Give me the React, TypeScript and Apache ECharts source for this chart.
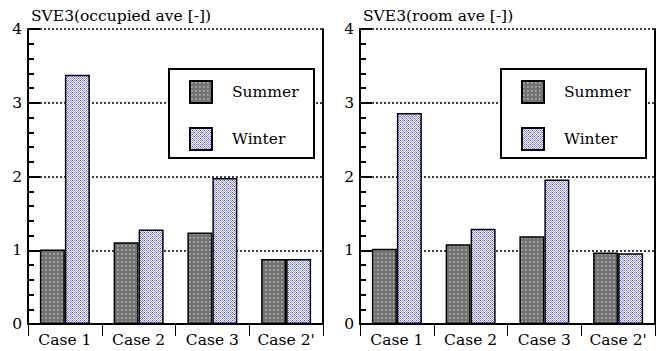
import React, { useEffect, useRef } from "react";
import * as echarts from "echarts";

const categories = ["Case 1", "Case 2", "Case 3", "Case 2'"];
const occupiedSummer = [1.01, 1.11, 1.24, 0.88];
const occupiedWinter = [3.38, 1.28, 1.98, 0.88];
const roomSummer = [1.02, 1.08, 1.19, 0.97];
const roomWinter = [2.86, 1.29, 1.96, 0.96];
const titles = ["SVE3(occupied ave [-])", "SVE3(room ave [-])"];
const seriesNames = ["Summer", "Winter"];
const yMin = 0;
const yMax = 4;
const yInterval = 1;

const FONT = "DejaVu Serif";
const FS = 15.5;

function makePattern(kind: string) {
  const c = document.createElement("canvas");
  c.width = 4;
  c.height = 4;
  const ctx = c.getContext("2d")!;
  for (let x = 0; x < 4; x++) {
    for (let y = 0; y < 4; y++) {
      let col: string;
      if (kind === "summer") {
        col = "#727272";
        if ((x === 1 || x === 2) && (y === 1 || y === 2)) col = "#a4a4a4";
        if (x === 2 && y === 2) col = "#8a8a8a";
      } else {
        col = (x + y) % 2 === 0 ? "#9a9aff" : "#ffffff";
        if ((x === 0 && y === 0) || (x === 2 && y === 2)) col = "#5656ea";
        if (x === 3 && y === 0) col = "#d8d8ff";
      }
      ctx.fillStyle = col;
      ctx.fillRect(x, y, 1, 1);
    }
  }
  return c;
}

export default function App() {
  const ref = useRef<HTMLDivElement>(null);
  useEffect(() => {
    if (!ref.current) return;
    const chart = echarts.init(ref.current, null, { renderer: "svg" });
    const summerPat = { image: makePattern("summer"), repeat: "repeat" };
    const winterPat = { image: makePattern("winter"), repeat: "repeat" };
    const gridLefts = [28, 360];
    const TOP = 29;
    const H = 295;
    const data = [
      [occupiedSummer, occupiedWinter],
      [roomSummer, roomWinter],
    ];
    const baseY = { type: "value", min: yMin, max: yMax, interval: yInterval };

    const grids: any[] = [];
    const xAxes: any[] = [];
    const yAxes: any[] = [];
    const series: any[] = [];

    gridLefts.forEach((l, i) => {
      const gMain = grids.length;
      grids.push({ left: l, top: TOP, width: 295, height: H });
      xAxes.push({
        type: "category",
        gridIndex: gMain,
        data: categories,
        axisLine: { show: true, lineStyle: { color: "#000", width: 2 } },
        axisTick: { show: true, length: 12, lineStyle: { color: "#000", width: 1 } },
        axisLabel: { color: "#000", fontSize: FS, fontFamily: FONT, margin: 8, interval: 0 },
        splitLine: { show: false },
      });
      const xMainIdx = xAxes.length - 1;
      const yMainIdx = yAxes.length;
      yAxes.push({
        ...baseY,
        gridIndex: gMain,
        axisLine: { show: true, lineStyle: { color: "#000", width: 2 } },
        axisTick: { show: false },
        axisLabel: { color: "#000", fontSize: FS, fontFamily: FONT, margin: 6 },
        splitLine: { show: true, lineStyle: { color: "#000", type: [2, 2], width: 1.5 } },
      });
      yAxes.push({
        ...baseY,
        gridIndex: gMain,
        position: "right",
        axisLine: { show: true, lineStyle: { color: "#000", width: 2 } },
        axisTick: { show: false },
        axisLabel: { show: false },
        splitLine: { show: false },
      });
      seriesNames.forEach((name, j) => {
        series.push({
          type: "bar",
          name,
          xAxisIndex: xMainIdx,
          yAxisIndex: yMainIdx,
          data: data[i][j],
          barWidth: 25,
          barGap: "0%",
          itemStyle: {
            color: j === 0 ? summerPat : winterPat,
            borderColor: "#000",
            borderWidth: 1.5,
          },
        });
      });
      // helper grids: their y axes' ticks point into the plot from the left axis
      [
        { off: 12, major: 12, minor: false },
        { off: 6, major: 6, minor: true },
      ].forEach((t) => {
        const g = grids.length;
        grids.push({ left: l + t.off, top: TOP, width: 1, height: H });
        xAxes.push({ type: "value", gridIndex: g, min: 0, max: 1, show: false });
        yAxes.push({
          ...baseY,
          gridIndex: g,
          axisLine: { show: false },
          axisTick: { show: true, length: t.major, lineStyle: { color: "#000", width: 2 } },
          minorTick: {
            show: t.minor,
            splitNumber: 5,
            length: 6,
            lineStyle: { color: "#000", width: 2 },
          },
          axisLabel: { show: false },
          splitLine: { show: false },
        });
      });
    });

    const option: any = {
      animation: false,
      backgroundColor: "#fff",
      textStyle: { fontFamily: FONT },
      title: titles.map((t, i) => ({
        text: t,
        left: gridLefts[i] + 3,
        top: 8,
        padding: 0,
        textStyle: { fontSize: FS, fontWeight: "normal", fontFamily: FONT, color: "#000" },
      })),
      grid: grids,
      xAxis: xAxes,
      yAxis: yAxes,
      legend: gridLefts.map((l) => ({
        data: seriesNames,
        orient: "vertical",
        left: l + 161,
        top: 80,
        icon: "rect",
        itemWidth: 22,
        itemHeight: 22,
        itemGap: 23,
        padding: 0,
        selectedMode: false,
        textStyle: { fontSize: FS, fontFamily: FONT, color: "#000", padding: [0, 0, 0, 15] },
      })),
      graphic: gridLefts.map((l) => ({
        type: "rect",
        x: l + 141,
        y: 69,
        z: 3,
        shape: { x: 0, y: 0, width: 145, height: 89 },
        style: { fill: "#fff", stroke: "#000", lineWidth: 2 },
      })),
      series,
    };
    chart.setOption(option);
    return () => chart.dispose();
  }, []);
  return (
    <div
      ref={ref}
      style={{ position: "absolute", left: 0, top: 0, width: 664, height: 351 }}
    />
  );
}
